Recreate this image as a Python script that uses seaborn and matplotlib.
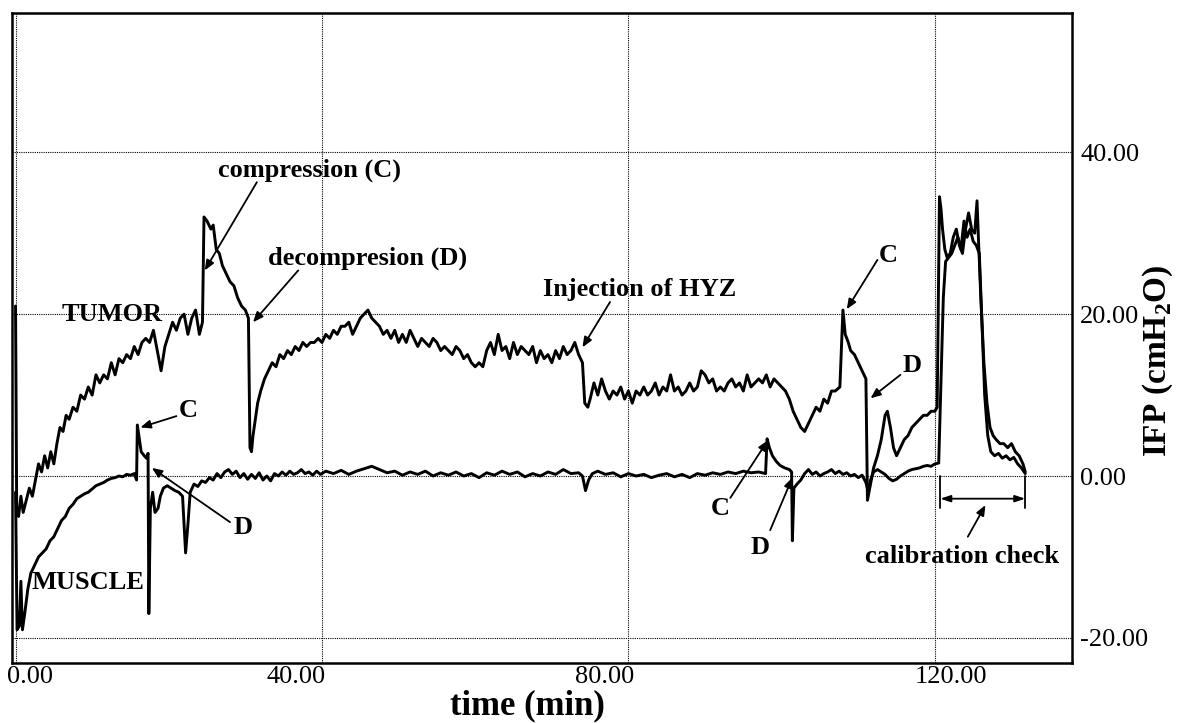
"""
Pression interstitielle (IFP) : tumeur vs muscle, avec compressions / decompressions.
"""
import matplotlib
matplotlib.use("Agg")
import matplotlib.pyplot as plt
import matplotlib.transforms as mtrans
import seaborn as sns

# --- donnees ---
tumor_t = [0.0, 0.15, 0.4, 0.7, 1.0, 1.4, 1.8, 2.2, 2.6, 3.0, 3.4, 3.8, 4.2, 4.6, 5.0, 5.4, 5.8,
           6.2, 6.6, 7.0, 7.5, 8.0, 8.5, 9.0, 9.5, 10.0, 10.5, 11.0, 11.5, 12.0, 12.5, 13.0,
           13.5, 14.0, 14.5, 15.0, 15.5, 16.0, 16.5, 17.0, 17.5, 18.0, 18.5, 19.0, 19.5, 20.0,
           20.5, 21.0, 21.5, 22.0, 22.5, 23.0, 23.5, 24.0, 24.4, 24.6, 25.0, 25.5, 25.8, 26.2,
           26.6, 27.0, 27.5, 28.0, 28.5, 29.0, 29.5, 30.0, 30.4, 30.6, 30.8, 31.0, 31.3, 31.6,
           32.0, 32.5, 33.0, 33.5, 34.0, 34.5, 35.0, 35.5, 36.0, 36.5, 37.0, 37.5, 38.0, 38.5,
           39.0, 39.5, 40.0, 40.5, 41.0, 41.5, 42.0, 42.5, 43.0, 43.5, 44.0, 44.5, 45.0, 45.5,
           46.0, 46.5, 47.0, 47.5, 48.0, 48.5, 49.0, 49.5, 50.0, 50.5, 51.0, 51.5, 52.0, 52.5,
           53.0, 53.5, 54.0, 54.5, 55.0, 55.5, 56.0, 56.5, 57.0, 57.5, 58.0, 58.5, 59.0, 59.5,
           60.0, 60.5, 61.0, 61.5, 62.0, 62.5, 63.0, 63.5, 64.0, 64.5, 65.0, 65.5, 66.0, 66.5,
           67.0, 67.5, 68.0, 68.5, 69.0, 69.5, 70.0, 70.5, 71.0, 71.5, 72.0, 72.5, 73.0, 73.5,
           74.0, 74.3, 74.7, 75.0, 75.5, 76.0, 76.5, 77.0, 77.5, 78.0, 78.5, 79.0, 79.5, 80.0,
           80.5, 81.0, 81.5, 82.0, 82.5, 83.0, 83.5, 84.0, 84.5, 85.0, 85.5, 86.0, 86.5, 87.0,
           87.5, 88.0, 88.5, 89.0, 89.5, 90.0, 90.5, 91.0, 91.5, 92.0, 92.5, 93.0, 93.5, 94.0,
           94.5, 95.0, 95.5, 96.0, 96.5, 97.0, 97.5, 98.0, 98.5, 99.0, 99.5, 100.0, 100.5,
           101.0, 101.5, 102.0, 102.5, 103.0, 103.5, 104.0, 104.5, 105.0, 105.5, 106.0, 106.5,
           107.0, 107.6, 108.0, 108.3, 108.7, 109.0, 109.5, 110.0, 110.5, 111.0, 111.2, 111.5,
           112.0, 112.5, 113.0, 113.5, 113.8, 114.2, 114.6, 115.0, 115.5, 116.0, 116.5, 117.0,
           117.5, 118.0, 118.5, 119.0, 119.5, 120.0, 120.3, 120.6, 120.8, 121.0, 121.3, 121.6,
           122.0, 122.4, 122.8, 123.2, 123.6, 124.0, 124.4, 124.8, 125.2, 125.5, 125.7, 126.0,
           126.4, 126.8, 127.2, 127.6, 128.0, 128.5, 129.0, 129.5, 130.0, 130.5, 131.0, 131.5,
           131.8]
tumor_ifp = [21.0, -4.0, -5.0, -2.5, -4.5, -3.0, -1.5, -2.5, -0.5, 1.5, 0.5, 2.5, 1.0, 3.0, 1.5,
             4.0, 6.0, 5.5, 7.5, 7.0, 8.5, 8.0, 10.0, 9.5, 11.0, 10.0, 12.5, 11.5, 12.5, 12.0,
             14.0, 12.5, 14.5, 14.0, 15.0, 14.5, 16.0, 15.0, 16.5, 17.0, 16.5, 18.0, 15.5, 13.0,
             16.0, 17.5, 19.0, 18.0, 19.5, 20.0, 17.5, 19.5, 20.5, 17.5, 19.0, 32.0, 31.5, 30.5,
             31.0, 28.0, 27.5, 26.0, 25.0, 24.0, 23.5, 22.0, 21.0, 20.5, 19.5, 3.5, 3.0, 5.0,
             7.0, 9.0, 10.5, 12.0, 13.0, 14.0, 13.5, 15.0, 14.5, 15.5, 15.0, 16.0, 15.5, 16.5,
             16.0, 16.5, 16.5, 17.0, 16.5, 17.5, 17.0, 18.0, 17.5, 18.5, 18.5, 19.0, 17.5, 18.5,
             19.5, 20.0, 20.5, 19.5, 19.0, 18.5, 17.5, 18.0, 17.0, 18.0, 16.5, 17.5, 16.5, 18.0,
             17.0, 16.0, 17.0, 16.5, 16.0, 17.0, 16.5, 15.5, 16.0, 15.5, 15.0, 16.0, 15.5, 14.5,
             15.0, 14.0, 13.5, 14.0, 13.5, 15.5, 16.5, 15.0, 17.5, 15.5, 16.0, 14.5, 16.5, 15.0,
             16.0, 15.5, 15.0, 16.0, 14.0, 15.5, 14.5, 15.0, 14.0, 15.5, 14.5, 16.0, 15.0, 15.5,
             16.5, 15.0, 14.0, 9.0, 8.5, 9.5, 11.5, 10.0, 12.0, 10.5, 9.5, 10.5, 10.0, 11.0, 9.5,
             10.5, 9.0, 10.5, 10.0, 11.0, 10.0, 10.5, 11.5, 10.0, 11.0, 10.5, 12.5, 10.5, 11.0,
             10.0, 10.5, 11.5, 10.5, 11.0, 13.0, 12.5, 11.5, 12.0, 10.5, 11.0, 10.5, 11.5, 12.0,
             11.0, 11.5, 10.5, 12.5, 11.0, 11.5, 12.0, 11.5, 12.5, 11.0, 12.0, 11.5, 11.0, 10.5,
             9.5, 8.0, 7.0, 6.0, 5.5, 6.5, 7.5, 8.5, 8.0, 9.5, 9.0, 10.5, 10.5, 11.0, 20.5, 17.5,
             16.5, 15.5, 15.0, 14.0, 13.0, 12.0, -3.0, -1.5, 1.0, 2.5, 4.5, 7.5, 8.0, 6.0, 3.5,
             2.5, 3.5, 4.5, 5.0, 6.0, 6.5, 7.0, 7.5, 7.5, 8.0, 8.0, 8.5, 34.5, 33.0, 30.5, 28.0,
             27.0, 27.5, 29.5, 30.5, 28.5, 27.5, 30.5, 32.5, 30.5, 30.0, 34.0, 29.0, 22.0, 14.0,
             9.0, 6.0, 5.0, 4.5, 4.0, 4.0, 3.5, 4.0, 3.0, 2.5, 1.5, 0.5]

muscle_t = [0.0, 0.2, 0.5, 0.7, 0.9, 1.2, 1.6, 2.0, 2.5, 3.0, 3.5, 4.0, 4.5, 5.0, 5.5, 6.0, 6.5,
            7.0, 7.5, 8.0, 8.5, 9.0, 9.5, 10.0, 10.5, 11.0, 11.5, 12.0, 12.5, 13.0, 13.5, 14.0,
            14.5, 15.0, 15.5, 15.8, 15.9, 16.1, 16.4, 16.8, 17.1, 17.3, 17.4, 17.6, 17.9, 18.2,
            18.6, 18.9, 19.3, 19.8, 20.3, 20.8, 21.3, 21.8, 22.2, 22.5, 22.8, 23.3, 23.8, 24.3,
            24.8, 25.3, 25.8, 26.3, 26.8, 27.3, 27.8, 28.3, 28.8, 29.3, 29.8, 30.3, 30.8, 31.3,
            31.8, 32.3, 32.8, 33.3, 33.8, 34.3, 34.8, 35.3, 35.8, 36.3, 36.8, 37.3, 37.8, 38.3,
            38.8, 39.3, 39.8, 40.5, 41.5, 42.5, 43.5, 44.5, 45.5, 46.5, 47.5, 48.5, 49.5, 50.5,
            51.5, 52.5, 53.5, 54.5, 55.5, 56.5, 57.5, 58.5, 59.5, 60.5, 61.5, 62.5, 63.5, 64.5,
            65.5, 66.5, 67.5, 68.5, 69.5, 70.5, 71.5, 72.5, 73.5, 74.0, 74.4, 74.8, 75.3, 76.0,
            77.0, 78.0, 79.0, 80.0, 81.0, 82.0, 83.0, 84.0, 85.0, 86.0, 87.0, 88.0, 89.0, 90.0,
            91.0, 92.0, 93.0, 94.0, 95.0, 96.0, 97.0, 97.9, 98.1, 98.4, 98.8, 99.3, 99.8, 100.4,
            101.0, 101.3, 101.4, 101.6, 102.0, 102.5, 103.0, 103.5, 104.0, 104.5, 105.0, 105.5,
            106.0, 106.5, 107.0, 107.5, 108.0, 108.5, 109.0, 109.5, 110.0, 110.5, 111.0, 111.3,
            111.6, 112.0, 112.5, 113.0, 113.5, 114.0, 114.5, 115.0, 115.5, 116.0, 116.5, 117.0,
            117.5, 118.0, 118.5, 119.0, 119.5, 120.0, 120.5, 120.8, 121.1, 121.4, 121.8, 122.2,
            122.6, 123.0, 123.4, 123.8, 124.2, 124.6, 125.0, 125.4, 125.8, 126.1, 126.5, 126.9,
            127.3, 127.8, 128.3, 128.8, 129.3, 129.8, 130.3, 130.8, 131.3, 131.8]
muscle_ifp = [-2.0, -19.0, -18.5, -13.0, -19.0, -17.0, -14.0, -12.0, -11.0, -10.0, -9.5, -9.0,
              -8.0, -7.5, -6.5, -5.5, -5.0, -4.0, -3.5, -2.8, -2.5, -2.2, -2.0, -1.6, -1.2, -1.0,
              -0.8, -0.5, -0.3, -0.2, 0.0, -0.1, 0.2, 0.1, 0.3, -0.5, 6.3, 5.0, 3.0, 2.5, 2.2,
              2.8, -17.0, -4.0, -2.0, -4.5, -4.0, -2.5, -1.5, -1.2, -1.5, -1.8, -2.0, -2.5, -9.5,
              -6.0, -2.0, -1.0, -1.3, -0.6, -0.8, -0.2, -0.5, 0.3, -0.2, 0.5, 0.8, 0.2, 0.6, -0.2,
              0.3, -0.4, 0.2, -0.3, 0.4, -0.5, 0.0, -0.6, 0.3, 0.0, 0.5, 0.1, 0.6, 0.2, 0.4, 0.8,
              0.3, 0.5, 0.1, 0.6, 0.2, 0.6, 0.3, 0.7, 0.2, 0.6, 0.9, 1.2, 0.8, 0.4, 0.6, 0.1, 0.5,
              0.2, 0.6, 0.0, 0.4, 0.1, 0.5, 0.0, 0.3, -0.2, 0.4, 0.1, 0.6, 0.2, 0.5, -0.1, 0.3,
              0.0, 0.5, 0.2, 0.8, 0.3, 0.4, 0.0, -1.8, -0.5, 0.3, 0.6, 0.2, 0.4, -0.1, 0.3, 0.0,
              0.2, -0.2, 0.1, 0.3, -0.1, 0.2, -0.2, 0.3, 0.1, 0.4, 0.2, 0.5, 0.3, 0.6, 0.4, 0.5,
              0.3, 4.6, 3.5, 2.5, 1.8, 1.3, 1.0, 0.8, 0.5, -8.0, -1.5, -1.0, -0.5, 0.3, 0.8, 0.2,
              0.5, 0.0, 0.3, 0.5, 0.8, 0.3, 0.6, 0.2, 0.4, 0.0, 0.2, -0.2, 0.1, -0.8, -2.0, -0.5,
              0.5, 0.8, 0.5, 0.2, -0.3, -0.6, -0.4, 0.0, 0.3, 0.6, 0.8, 0.9, 1.0, 1.2, 1.3, 1.2,
              1.5, 1.6, 12.0, 22.0, 26.5, 27.0, 27.5, 28.5, 29.5, 28.0, 31.5, 29.5, 30.5, 29.0,
              28.5, 27.5, 20.0, 10.0, 5.0, 3.0, 2.5, 2.8, 2.2, 2.5, 2.0, 2.3, 1.5, 1.0, 0.3]

x_ticks = [0, 40, 80, 120]
y_ticks = [-20, 0, 20, 40]

sns.set_style("white")
plt.rcParams["font.family"] = ["Liberation Serif", "DejaVu Serif"]
plt.rcParams["mathtext.fontset"] = "custom"
plt.rcParams["mathtext.rm"] = "Liberation Serif:bold"
plt.rcParams["mathtext.bf"] = "Liberation Serif:bold"
for key in ["text.color", "axes.labelcolor", "xtick.color", "ytick.color"]:
    plt.rcParams[key] = "black"

fig = plt.figure(figsize=(11.77, 7.23), dpi=100)
ax = fig.add_axes([0.0102, 0.083, 0.9006, 0.899])

sns.lineplot(x=tumor_t, y=tumor_ifp, ax=ax, color="black", linewidth=2.1,
             estimator=None, sort=False)
sns.lineplot(x=muscle_t, y=muscle_ifp, ax=ax, color="black", linewidth=2.1,
             estimator=None, sort=False)

ax.set_xlim(-0.46, 137.9)
ax.set_ylim(-23.1, 57.2)
ax.set_xticks(x_ticks)
ax.set_xticklabels([f"{v:.2f}" for v in x_ticks])
ax.set_yticks(y_ticks)
ax.set_yticklabels([f"{v:.2f}" for v in y_ticks])
ax.yaxis.tick_right()
ax.tick_params(length=0, labelsize=19, colors="black")
ax.tick_params(axis="x", pad=2)
ax.tick_params(axis="y", pad=6)
ax.grid(True, color="black", linestyle=(0, (1, 1)), linewidth=0.8)
for s in ax.spines.values():
    s.set_color("black")
    s.set_linewidth(1.8)

# decalage des etiquettes en x comme sur l'original (en pixels)
for lab, dx in zip(ax.get_xticklabels(), [14, -26, -24, 16]):
    lab.set_transform(lab.get_transform() +
                      mtrans.ScaledTranslation(dx / 100, 0, fig.dpi_scale_trans))

ax.set_xlabel("time (min)", fontsize=25, fontweight="bold", labelpad=0)
ax.xaxis.set_label_coords(0.486, -0.040)
ax.yaxis.set_label_position("right")
ax.set_ylabel(r"IFP (cmH$_2$O)", fontsize=24, fontweight="bold", rotation=90)
ax.yaxis.set_label_coords(1.065, 0.465)

# annotations
bold = dict(fontsize=19, fontweight="bold", ha="center", va="center")
arrow = dict(arrowstyle="-|>,head_length=0.6,head_width=0.25", color="black", lw=1.3,
             shrinkA=0, shrinkB=0)

labels = [
    ("compression (C)", (38.4, 37.8), (31.5, 36.3), (24.7, 25.4)),
    ("decompresion (D)", (46.0, 26.9), (36.9, 25.4), (31.0, 19.0)),
    ("Injection of HYZ", (81.5, 23.0), (77.6, 21.5), (74.0, 15.9)),
    ("C", (113.9, 27.3), (112.5, 26.7), (108.5, 20.6)),
    ("D", (117.0, 13.7), (115.5, 12.5), (111.6, 9.6)),
    ("C", (22.5, 8.1), (21.0, 7.4), (16.3, 6.0)),
    ("D", (29.7, -6.4), (28.0, -5.7), (17.8, 1.0)),
    ("C", (92.0, -4.0), (93.3, -2.7), (98.2, 4.4)),
    ("D", (97.2, -8.8), (98.5, -6.7), (101.4, -0.2)),
    ("calibration check", (123.6, -10.0), (124.3, -7.5), (126.6, -3.6)),
]
for txt, pos, start, end in labels:
    ax.text(pos[0], pos[1], txt, **bold)
    ax.annotate("", xy=end, xytext=start, arrowprops=arrow)

ax.text(12.6, 19.9, "TUMOR", **bold)
ax.text(9.5, -13.1, "MUSCLE", **bold)

# double fleche de la verification d'etalonnage
ax.annotate("", xy=(120.7, -2.8), xytext=(131.8, -2.8),
            arrowprops=dict(arrowstyle="<|-|>,head_length=0.6,head_width=0.2",
                            color="black", lw=1.3, shrinkA=0, shrinkB=0))
ax.plot([120.7, 120.7], [0.0, -4.0], color="black", lw=1.3)
ax.plot([131.8, 131.8], [0.0, -4.0], color="black", lw=1.3)

fig.savefig("out.png", dpi=100)
